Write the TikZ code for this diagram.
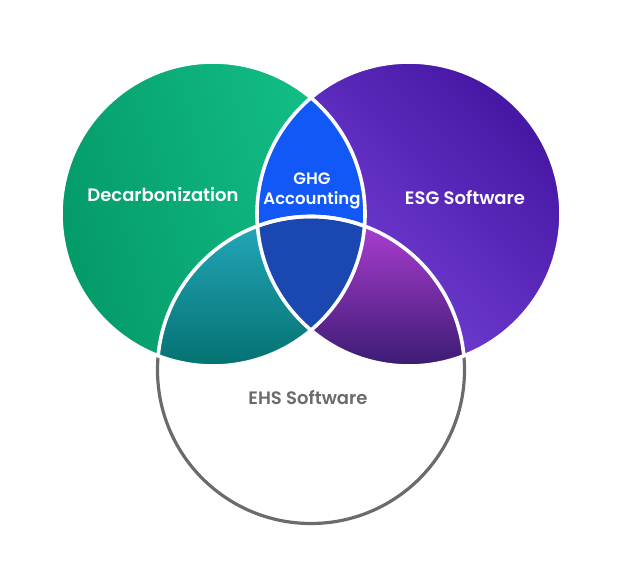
\documentclass[tikz,border=0pt]{standalone}
\usepackage{fontspec}
\setmainfont{Poppins}
\newfontfamily\lblfont{Poppins SemiBold}
\definecolor{grnD}{HTML}{049A69}
\definecolor{grnL}{HTML}{14C189}
\definecolor{purL}{HTML}{7B46DF}
\definecolor{purD}{HTML}{4617A3}
\definecolor{ghg}{HTML}{1158F6}
\definecolor{core}{HTML}{1A48B0}
\definecolor{tealT}{HTML}{24A7BA}
\definecolor{tealB}{HTML}{037170}
\definecolor{magT}{HTML}{AC3ED2}
\definecolor{magB}{HTML}{3A1B72}
\definecolor{ehsgrey}{HTML}{6B6B6B}
\tikzset{
  sepline/.style={draw=white, line width=3.6pt},
  ehsline/.style={draw=ehsgrey, line width=3.2pt},
  lbl/.style={font=\lblfont\fontsize{18}{20}\selectfont, text=white, align=center, inner sep=0pt},
  lblsmall/.style={font=\lblfont\fontsize{16.5}{20}\selectfont, text=white, align=center, inner sep=0pt}
}
\begin{document}
\begin{tikzpicture}[x=1pt,y=-1pt]
\useasboundingbox (0,0) rectangle (624,585);
\coordinate (cL) at (213,214);
\coordinate (cR) at (409,214);
\coordinate (cB) at (311,370);
% EHS outline
\path[ehsline] (cB) circle[radius=153.5];
% main circles
\shade[top color=grnL, bottom color=grnD, shading angle=-75] (cL) circle[radius=152];
\shade[top color=purD, bottom color=purL, shading angle=-45] (cR) circle[radius=152];
% top lens
\begin{scope}
  \clip (cL) circle[radius=152];
  \fill[ghg] (cR) circle[radius=152];
\end{scope}
% teal lens
\begin{scope}
  \clip (cL) circle[radius=152];
  \clip (cB) circle[radius=153.5];
  \shade[top color=tealT, bottom color=tealB] (150,222) rectangle (320,367);
\end{scope}
% lower purple lens
\begin{scope}
  \clip (cR) circle[radius=152];
  \clip (cB) circle[radius=153.5];
  \shade[top color=magT, bottom color=magB] (300,222) rectangle (470,367);
\end{scope}
% core
\begin{scope}
  \clip (cL) circle[radius=152];
  \clip (cR) circle[radius=152];
  \fill[core] (cB) circle[radius=153.5];
\end{scope}
% white separators
\begin{scope}
  \clip (cL) circle[radius=152];
  \path[sepline] (cB) circle[radius=153.5];
\end{scope}
\begin{scope}
  \clip (cR) circle[radius=152];
  \path[sepline] (cB) circle[radius=153.5];
\end{scope}
\path[sepline] (cL) circle[radius=152];
\path[sepline] (cR) circle[radius=152];
% labels
\node[lbl] (decarb) at (163,195) {Decarbonization};
\node[lblsmall] (ghgacc) at (312,191) {GHG\\Accounting};
\node[lbl] (esg) at (465,198) {ESG Software};
\node[lbl, text=ehsgrey] (ehs) at (308,398) {EHS Software};
\end{tikzpicture}
\end{document}
